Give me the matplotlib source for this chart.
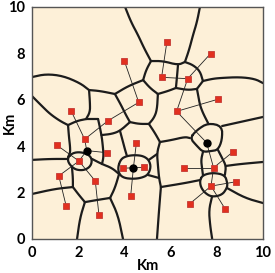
import numpy as np
import matplotlib
matplotlib.use("Agg")
import matplotlib.pyplot as plt

plt.rcParams['font.family'] = ['Lato', 'DejaVu Sans']

# sensor nodes (red squares), km
sensor_x = [4.00, 5.84, 7.73, 5.61, 6.74, 4.62, 8.07, 6.26, 1.69, 3.28, 1.07, 2.28, 3.25, 2.03, 1.16,
            2.74, 1.48, 2.90, 4.52, 3.93, 4.27, 4.86, 6.58, 7.86, 8.69, 8.84, 7.75, 6.83, 8.37]
sensor_y = [7.67, 8.50, 7.99, 6.97, 6.91, 5.89, 6.03, 5.50, 5.53, 5.09, 4.05, 4.30, 3.72, 3.36, 2.72,
            2.50, 1.42, 1.02, 4.15, 3.05, 1.84, 3.09, 3.07, 3.07, 3.75, 2.47, 2.28, 1.52, 1.28]

# cluster heads (black dots)
head_x = [2.37, 4.39, 7.56]
head_y = [3.81, 3.07, 4.15]

# links between nodes: sensors 0..28, heads 29..31
links = [(0, 5), (5, 9), (9, 11), (8, 11), (11, 29), (10, 13), (13, 29), (13, 14), (13, 15),
         (29, 12), (14, 16), (15, 17), (30, 18), (30, 19), (30, 20), (30, 21),
         (1, 3), (3, 4), (2, 4), (4, 7), (6, 7), (7, 31), (31, 23), (23, 22), (23, 24),
         (23, 26), (26, 25), (26, 27), (26, 28)]

# cell borders (open polylines)
edges = [
    [(4.03, 10.0), (4.29, 9.35), (4.59, 8.79), (4.85, 8.23), (5.15, 7.67)],
    [(5.15, 7.67), (4.94, 7.28), (4.81, 6.85)],
    [(5.15, 7.67), (5.67, 7.67), (6.32, 7.50), (6.62, 7.63)],
    [(7.27, 10.0), (7.14, 9.35), (6.97, 8.79), (6.80, 8.15), (6.62, 7.63)],
    [(6.62, 7.63), (6.97, 7.50), (7.27, 7.24), (7.40, 6.81)],
    [(7.40, 6.81), (7.79, 6.90), (8.14, 6.94), (9.00, 6.98), (9.65, 6.90), (10.0, 6.72)],
    [(7.40, 6.81), (7.14, 6.47)],
    [(6.32, 7.50), (6.28, 7.03), (6.23, 6.51)],
    [(6.23, 6.51), (6.75, 6.42), (7.14, 6.47)],
    [(4.81, 6.85), (5.11, 6.51), (5.45, 6.25)],
    [(5.45, 6.25), (5.89, 6.38), (6.23, 6.51)],
    [(5.45, 6.25), (5.41, 5.56), (5.28, 5.22), (5.06, 4.96)],
    [(5.06, 4.96), (4.63, 4.96), (4.24, 5.04)],
    [(5.06, 4.96), (5.32, 4.57), (5.54, 4.18)],
    [(5.54, 4.18), (6.06, 4.27), (6.62, 4.40), (6.84, 4.35)],
    [(7.14, 6.47), (7.19, 6.21), (7.27, 5.78), (7.40, 5.43), (7.62, 5.00)],
    [(6.84, 4.35), (7.14, 4.70), (7.62, 5.00), (8.23, 4.87), (8.23, 4.27), (8.05, 3.84),
     (7.75, 3.79), (7.40, 3.75), (7.14, 4.01), (6.84, 4.35)],
    [(8.23, 4.87), (9.00, 5.04), (10.0, 5.26)],
    [(7.40, 3.75), (7.32, 3.41), (7.36, 3.06), (7.40, 2.76)],
    [(8.05, 3.84), (8.23, 3.49), (8.40, 3.15), (8.35, 2.76)],
    [(8.40, 3.15), (9.00, 3.23), (10.0, 3.32)],
    [(7.27, 2.54), (7.40, 2.76), (7.84, 2.86), (8.35, 2.76), (8.46, 2.40), (8.44, 2.20),
     (8.23, 1.90), (7.79, 1.81), (7.49, 1.98), (7.30, 2.25), (7.27, 2.54)],
    [(5.58, 2.24), (6.62, 2.41), (7.27, 2.54)],
    [(5.54, 4.18), (5.41, 3.71), (5.45, 3.19), (5.50, 2.63), (5.58, 2.24)],
    [(5.58, 2.24), (5.50, 1.25), (5.41, 0.0)],
    [(7.79, 1.81), (7.66, 1.25), (7.71, 0.60), (7.80, 0.0)],
    [(8.44, 2.20), (9.22, 1.77), (10.0, 1.55)],
    [(3.72, 3.10), (3.85, 3.45), (4.11, 3.58), (4.46, 3.62), (4.81, 3.58), (5.06, 3.41),
     (5.15, 3.10), (5.02, 2.76), (4.72, 2.63), (4.37, 2.59), (3.98, 2.63), (3.77, 2.80), (3.72, 3.10)],
    [(5.06, 3.41), (5.41, 3.66)],
    [(5.02, 2.76), (5.50, 2.63)],
    [(0.0, 6.98), (0.61, 7.11), (1.34, 7.03), (2.08, 6.72), (2.47, 6.42)],
    [(2.47, 6.42), (2.94, 6.38), (3.59, 6.25)],
    [(3.59, 6.25), (4.16, 6.59), (4.81, 6.85)],
    [(0.0, 6.16), (0.43, 5.73), (0.78, 5.39), (1.21, 5.09), (1.56, 4.91)],
    [(1.56, 4.91), (1.95, 5.09), (2.34, 5.17)],
    [(2.47, 6.42), (2.51, 5.86), (2.51, 5.47), (2.34, 5.17)],
    [(2.34, 5.17), (2.86, 5.17)],
    [(2.86, 5.17), (3.01, 4.48), (3.07, 3.97), (3.10, 3.55), (3.03, 3.23)],
    [(3.01, 4.48), (3.46, 4.53), (3.81, 4.66), (4.24, 5.04)],
    [(3.59, 6.25), (3.85, 5.78), (4.07, 5.34), (4.24, 5.04)],
    [(3.81, 4.66), (3.94, 4.18), (4.03, 3.84), (4.11, 3.58)],
    [(1.56, 4.91), (1.60, 4.40), (1.65, 3.97), (1.65, 3.71), (1.56, 3.53)],
    [(1.56, 3.53), (1.77, 3.71), (2.08, 3.75), (2.42, 3.66), (2.60, 3.45), (2.55, 3.15),
     (2.29, 2.97), (1.95, 2.97), (1.73, 3.10), (1.56, 3.32), (1.56, 3.53)],
    [(0.0, 3.41), (0.78, 3.45), (1.56, 3.45)],
    [(1.73, 3.10), (1.77, 2.63), (1.77, 2.24)],
    [(1.77, 2.24), (1.00, 2.16), (0.0, 1.94)],
    [(1.77, 2.24), (2.03, 1.90), (2.29, 1.59)],
    [(2.29, 1.59), (2.08, 0.91), (1.95, 0.0)],
    [(2.29, 1.59), (2.81, 1.68), (3.38, 1.77)],
    [(3.38, 1.77), (3.72, 1.03), (3.94, 0.0)],
    [(3.38, 1.77), (3.59, 2.20), (3.77, 2.80)],
    [(2.60, 3.45), (3.03, 3.23), (3.46, 3.06), (3.77, 2.80)],
]


def smooth(pts, rounds=2):
    # chaikin corner cutting, ends kept fixed
    p = np.asarray(pts, dtype=float)
    closed = np.allclose(p[0], p[-1]) and len(p) > 3
    for _ in range(rounds):
        q = [p[0]] if not closed else []
        for a, b in zip(p[:-1], p[1:]):
            q.append(0.75 * a + 0.25 * b)
            q.append(0.25 * a + 0.75 * b)
        if closed:
            q.append(q[0])
        else:
            q.append(p[-1])
        p = np.array(q)
    return p


fig = plt.figure(figsize=(2.75, 2.73), dpi=100)
ax = fig.add_axes([32 / 275, 34 / 273, 231 / 275, 232 / 273])
ax.set_facecolor('#fdf0d8')

for e in edges:
    s = smooth(e)
    ax.plot(s[:, 0], s[:, 1], color='#1c1c1c', lw=1.6, solid_capstyle='round',
            solid_joinstyle='round', zorder=2)

all_x = sensor_x + head_x
all_y = sensor_y + head_y
for a, b in links:
    ax.plot([all_x[a], all_x[b]], [all_y[a], all_y[b]], color='#222222', lw=0.6, zorder=3)

ax.plot(sensor_x, sensor_y, 's', ms=4.6, mfc='#e2301f', mec='#c43a35', mew=0.6, zorder=4)
ax.plot(head_x, head_y, 'o', ms=5.0, color='black', zorder=5)

ax.set_xlim(0, 10)
ax.set_ylim(0, 10)
ax.set_xticks([0, 2, 4, 6, 8, 10])
ax.set_yticks([0, 2, 4, 6, 8, 10])
ax.tick_params(length=0, labelsize=10.5, pad=5)
for lab in ax.get_xticklabels() + ax.get_yticklabels():
    lab.set_fontweight('bold')
ax.set_xlabel('Km', fontsize=10.5, fontweight='bold', va='center')
ax.set_ylabel('Km', fontsize=10.5, fontweight='bold', va='center')
ax.xaxis.set_label_coords(0.5, -0.118)
ax.yaxis.set_label_coords(-0.095, 0.5)
for sp in ax.spines.values():
    sp.set_color('#555555')
    sp.set_linewidth(1.0)

fig.savefig('out.png', dpi=100)
